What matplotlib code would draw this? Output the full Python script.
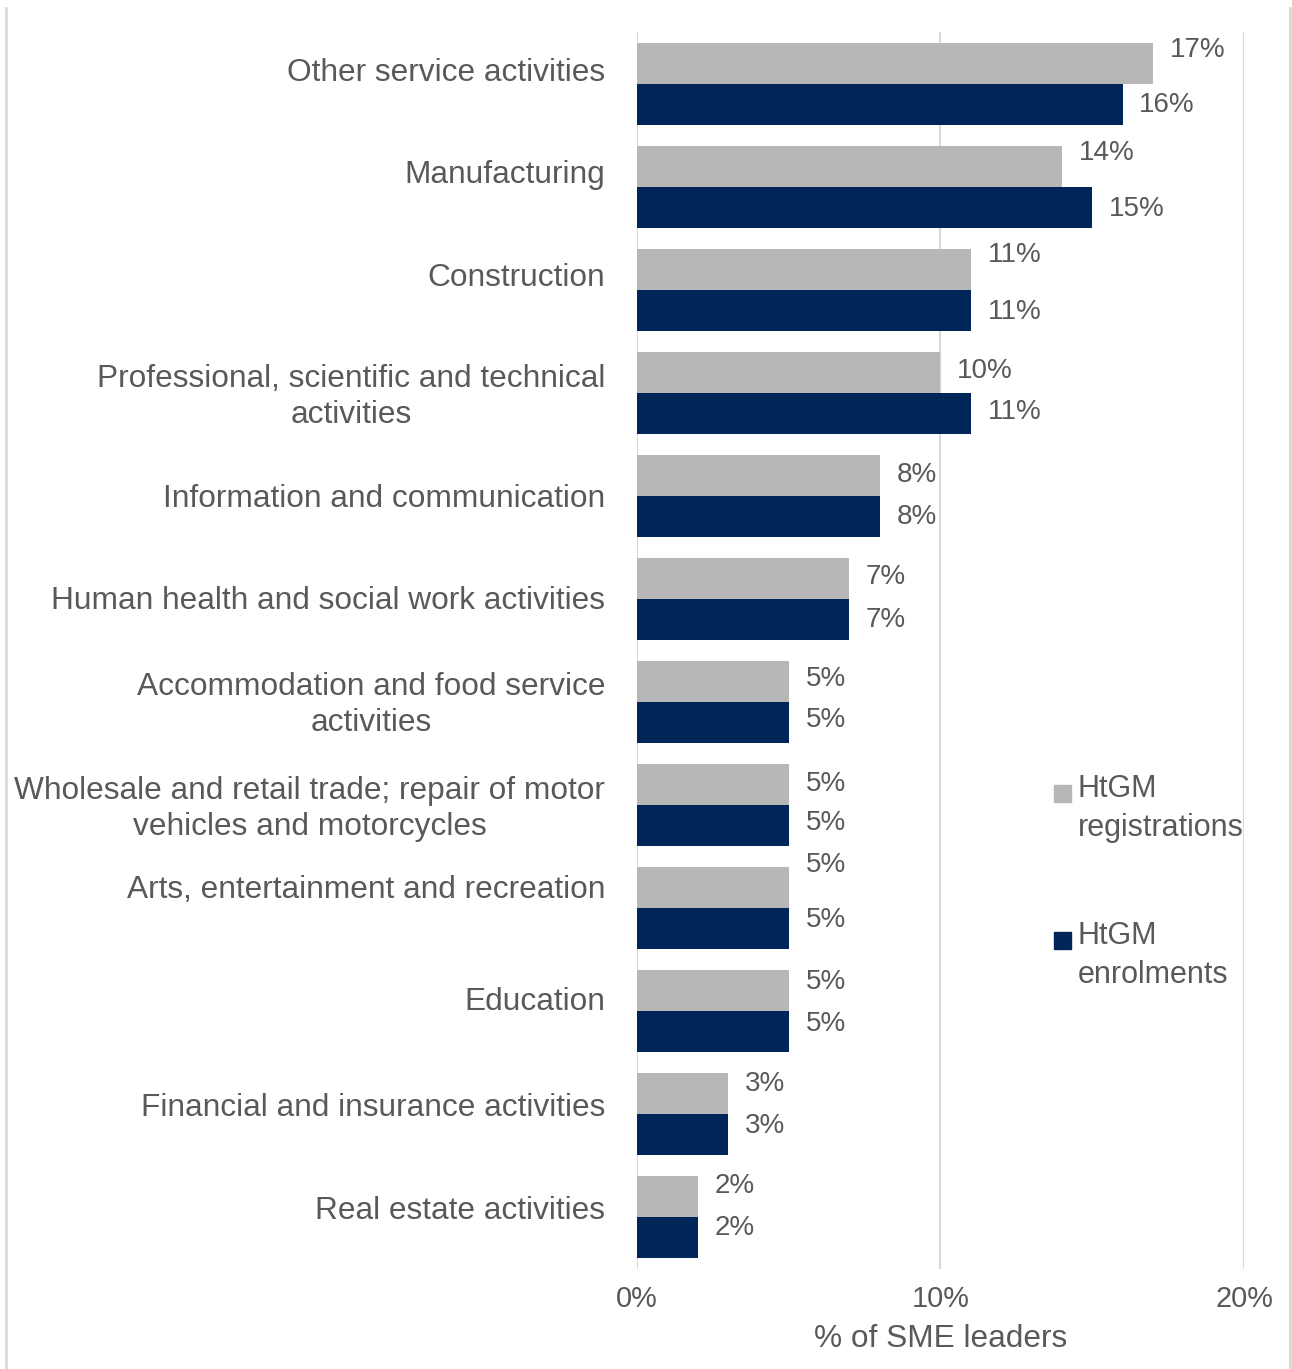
import numpy as np
import matplotlib.pyplot as plt
from matplotlib.lines import Line2D
from matplotlib.patches import Rectangle
from matplotlib.transforms import ScaledTranslation

plt.rcParams['font.family'] = ['Liberation Sans', 'DejaVu Sans']

categories = [
    'Other service activities',
    'Manufacturing',
    'Construction',
    'Professional, scientific and technical\nactivities',
    'Information and communication',
    'Human health and social work activities',
    'Accommodation and food service\nactivities',
    'Wholesale and retail trade; repair of motor\nvehicles and motorcycles',
    'Arts, entertainment and recreation',
    'Education',
    'Financial and insurance activities',
    'Real estate activities',
]
registrations = [17, 14, 11, 10, 8, 7, 5, 5, 5, 5, 3, 2]
enrolments = [16, 15, 11, 11, 8, 7, 5, 5, 5, 5, 3, 2]

# vertical nudges (pixels, downwards) for value labels and category labels
reg_dy = [-13, -13, -14, -1, 0, -1, -2, 0, -22, -8, -9, -10]
enr_dy = [0, 1, 1, -2, 0, 0, -3, -3, -9, -8, -9, -10]
cat_dy = [-14, -15, -15, -2, 0, -1, -3, -2, -21, -13, -10, -10]

GREY = '#b7b7b7'
NAVY = '#002659'
TXT = '#595959'
GRID = '#d9d9d9'

fig = plt.figure(figsize=(12.92, 13.69), dpi=100)
ax = fig.add_axes([0.493, 0.0734, 0.4698, 0.9029])

y = np.arange(len(categories))
h = 0.4
b1 = ax.barh(y - h / 2, registrations, height=h, color=GREY, label='HtGM\nregistrations')
b2 = ax.barh(y + h / 2, enrolments, height=h, color=NAVY, label='HtGM\nenrolments')

for bars, vals, dys in [(b1, registrations, reg_dy), (b2, enrolments, enr_dy)]:
    for bar, v, dy in zip(bars, vals, dys):
        ax.annotate(f'{v}%', (bar.get_width(), bar.get_y() + bar.get_height() / 2),
                    xytext=(12, -dy * 0.72), textcoords='offset points',
                    ha='left', va='center', fontsize=20, color=TXT)

ax.set_ylim(len(categories) - 0.5, -0.5)
ax.set_xlim(0, 20)
ax.set_xticks([0, 10, 20])
ax.set_xticklabels(['0%', '10%', '20%'])
ax.set_yticks(y)
ax.set_yticklabels(categories, multialignment='center')

ax.grid(axis='x', color=GRID, linewidth=1.5)
ax.set_axisbelow(True)
for s in ax.spines.values():
    s.set_visible(False)
ax.tick_params(axis='both', length=0, colors=TXT)
ax.tick_params(axis='y', labelsize=22.8, pad=23)
ax.tick_params(axis='x', labelsize=20.8, pad=12)
ax.set_xlabel('% of SME leaders', fontsize=22.8, color=TXT, labelpad=8)

for lbl, dy in zip(ax.get_yticklabels(), cat_dy):
    lbl.set_linespacing(1.25)
    lbl.set_transform(lbl.get_transform() + ScaledTranslation(0, -dy / fig.dpi, fig.dpi_scale_trans))

# legend drawn by hand so the swatch sits beside the first line
W, H = fig.get_size_inches() * fig.dpi
for (col, lab, top) in [(GREY, 'HtGM\nregistrations', 785), (NAVY, 'HtGM\nenrolments', 932)]:
    fig.patches.append(Rectangle((1054 / W, 1 - (top + 17) / H), 17 / W, 17 / H,
                                 transform=fig.transFigure, color=col))
    fig.text(1078 / W, 1 - (top - 11) / H, lab, fontsize=22, color=TXT,
             ha='left', va='top', linespacing=1.4)

# frame lines at the sides
for xp in (6, 1290):
    fig.add_artist(Line2D([xp / W, xp / W], [0, 1 - 8 / H], transform=fig.transFigure,
                          color=GRID, linewidth=2))

fig.savefig('out.png', dpi=100)
